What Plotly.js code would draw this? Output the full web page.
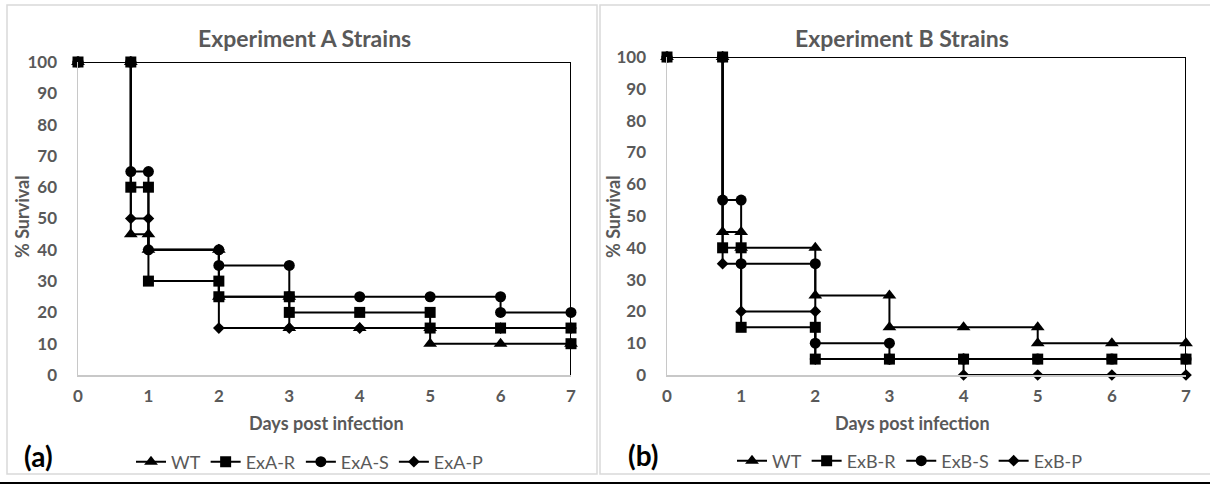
<!DOCTYPE html>
<html>
<head>
<meta charset="utf-8">
<script src="https://cdn.plot.ly/plotly-3.0.1.min.js"></script>
<style>html,body{margin:0;padding:0;background:#fff;}#chart{width:1210px;height:485px;}</style>
</head>
<body>
<div id="chart"></div>
<script>
// ---- Data ----
var dayTicks = [0, 1, 2, 3, 4, 5, 6, 7];
var survivalTicks = [0, 10, 20, 30, 40, 50, 60, 70, 80, 90, 100];

// Experiment A
var aWT_x = [0, 0.75, 0.75, 1, 1, 2, 2, 3, 3, 4, 5, 5, 6, 7];
var aWT_y = [100, 100, 45, 45, 40, 40, 25, 25, 15, 15, 15, 10, 10, 10];
var aR_x  = [0, 0.75, 0.75, 1, 1, 2, 2, 3, 3, 4, 5, 5, 6, 7, 7];
var aR_y  = [100, 100, 60, 60, 30, 30, 25, 25, 20, 20, 20, 15, 15, 15, 10];
var aS_x  = [0, 0.75, 0.75, 1, 1, 2, 2, 3, 3, 4, 5, 6, 6, 7];
var aS_y  = [100, 100, 65, 65, 40, 40, 35, 35, 25, 25, 25, 25, 20, 20];
var aP_x  = [0, 0.75, 0.75, 1, 1, 2, 2, 3, 4, 5, 6, 7];
var aP_y  = [100, 100, 50, 50, 40, 40, 15, 15, 15, 15, 15, 15];

// Experiment B
var bWT_x = [0, 0.75, 0.75, 1, 1, 2, 2, 3, 3, 4, 5, 5, 6, 7];
var bWT_y = [100, 100, 45, 45, 40, 40, 25, 25, 15, 15, 15, 10, 10, 10];
var bR_x  = [0, 0.75, 0.75, 1, 1, 2, 2, 3, 4, 5, 6, 7];
var bR_y  = [100, 100, 40, 40, 15, 15, 5, 5, 5, 5, 5, 5];
var bS_x  = [0, 0.75, 0.75, 1, 1, 2, 2, 3, 3, 4, 5, 6, 7];
var bS_y  = [100, 100, 55, 55, 35, 35, 10, 10, 5, 5, 5, 5, 5];
var bP_x  = [0, 0.75, 0.75, 1, 1, 2, 2, 3, 4, 4, 5, 6, 7];
var bP_y  = [100, 100, 35, 35, 20, 20, 5, 5, 5, 0, 0, 0, 0];

// Outer step line (no markers) drawn in both panels
var frame_x = [0.75, 7, 7];
var frame_y = [100, 100, 0];

var namesA = ['WT', 'ExA-R', 'ExA-S', 'ExA-P'];
var namesB = ['WT', 'ExB-R', 'ExB-S', 'ExB-P'];

// ---- Styling ----
var FONT = 'Lato, "Open Sans", sans-serif';
var GRAY = '#595959';
var symbols = {WT: 'triangle-up', R: 'square', S: 'circle', P: 'diamond'};
var sizes = {WT: 12, R: 11, S: 11, P: 9};

function series(x, y, name, key, xa, ya, leg, rank) {
  return {
    type: 'scatter', mode: 'lines+markers', x: x, y: y, name: name,
    xaxis: xa, yaxis: ya, legend: leg, legendrank: rank, cliponaxis: false,
    line: {color: '#000000', width: 2},
    marker: {symbol: symbols[key], size: sizes[key], color: '#000000', line: {width: 0}}
  };
}
function frame(xa, ya) {
  return {type: 'scatter', mode: 'lines', x: frame_x, y: frame_y, xaxis: xa, yaxis: ya,
    showlegend: false, hoverinfo: 'skip', cliponaxis: false, line: {color: '#000000', width: 2}};
}

var traces = [
  frame('x', 'y'),
  series(aP_x, aP_y, namesA[3], 'P', 'x', 'y', 'legend', 4),
  series(aWT_x, aWT_y, namesA[0], 'WT', 'x', 'y', 'legend', 1),
  series(aS_x, aS_y, namesA[2], 'S', 'x', 'y', 'legend', 3),
  series(aR_x, aR_y, namesA[1], 'R', 'x', 'y', 'legend', 2),
  frame('x2', 'y2'),
  series(bP_x, bP_y, namesB[3], 'P', 'x2', 'y2', 'legend2', 4),
  series(bWT_x, bWT_y, namesB[0], 'WT', 'x2', 'y2', 'legend2', 1),
  series(bS_x, bS_y, namesB[2], 'S', 'x2', 'y2', 'legend2', 3),
  series(bR_x, bR_y, namesB[1], 'R', 'x2', 'y2', 'legend2', 2)
];

var W = 1210, H = 485;
function px(v) { return v / W; }
function py(v) { return 1 - v / H; }

function xax(d0, d1, anchor) {
  return {domain: [px(d0), px(d1)], anchor: anchor, range: [0, 7], tickvals: dayTicks,
    showgrid: false, zeroline: false, showline: true, linecolor: '#c8c8c8', linewidth: 1.5,
    ticks: 'outside', ticklen: 5, tickcolor: 'rgba(0,0,0,0)',
    tickfont: {family: FONT, size: 17, color: GRAY, weight: 'bold'}, fixedrange: true};
}
function yax(d0, d1, anchor) {
  return {domain: [py(d1), py(d0)], anchor: anchor, range: [0, 100], tickvals: survivalTicks,
    showgrid: false, zeroline: false, showline: true, linecolor: '#c8c8c8', linewidth: 1.5,
    ticks: 'outside', ticklen: 16, tickcolor: 'rgba(0,0,0,0)',
    tickfont: {family: FONT, size: 17, color: GRAY, weight: 'bold'}, fixedrange: true};
}

function ann(text, x, y, size, color, bold, angle) {
  return {text: text, xref: 'paper', yref: 'paper', x: px(x), y: py(y), xanchor: 'center', yanchor: 'middle',
    showarrow: false, textangle: angle || 0,
    font: {family: FONT, size: size, color: color, weight: bold ? 'bold' : 'normal'}};
}

var legendStyle = {orientation: 'h', xref: 'paper', yref: 'paper', xanchor: 'center', yanchor: 'middle',
  font: {family: FONT, size: 18, color: GRAY}, bgcolor: 'rgba(0,0,0,0)', itemwidth: 30,
  traceorder: 'normal', tracegroupgap: 0};

var layout = {
  width: W, height: H, margin: {l: 0, r: 0, t: 0, b: 0},
  paper_bgcolor: '#ffffff', plot_bgcolor: 'rgba(0,0,0,0)',
  showlegend: true,
  xaxis: xax(78, 571, 'y'),
  yaxis: yax(62, 375, 'x'),
  xaxis2: xax(667, 1186, 'y2'),
  yaxis2: yax(57, 375, 'x2'),
  legend: Object.assign({}, legendStyle, {x: px(310), y: py(462)}),
  legend2: Object.assign({}, legendStyle, {x: px(910), y: py(461)}),
  shapes: [
    {type: 'rect', xref: 'paper', yref: 'paper', x0: px(7), x1: px(597), y0: py(474), y1: py(5),
      line: {color: '#d9d9d9', width: 1.5}, fillcolor: 'rgba(0,0,0,0)', layer: 'below'},
    {type: 'rect', xref: 'paper', yref: 'paper', x0: px(600), x1: px(1220), y0: py(474), y1: py(5),
      line: {color: '#d9d9d9', width: 1.5}, fillcolor: 'rgba(0,0,0,0)', layer: 'below'},
    {type: 'line', xref: 'paper', yref: 'paper', x0: 0, x1: 1, y0: py(483), y1: py(483),
      line: {color: '#000000', width: 2}}
  ],
  annotations: [
    ann('Experiment A Strains', 304, 38, 23, GRAY, true),
    ann('Experiment B Strains', 902, 38, 23, GRAY, true),
    ann('% Survival', 22, 217, 18, GRAY, true, -90),
    ann('% Survival', 613, 217, 18, GRAY, true, -90),
    ann('Days post infection', 326, 423, 18, GRAY, true),
    ann('Days post infection', 912, 423, 18, GRAY, true),
    ann('(a)', 38, 456, 28, '#000000', true),
    ann('(b)', 643, 455, 28, '#000000', true)
  ]
};

Plotly.newPlot('chart', traces, layout, {displayModeBar: false, staticPlot: true});
</script>
</body>
</html>
